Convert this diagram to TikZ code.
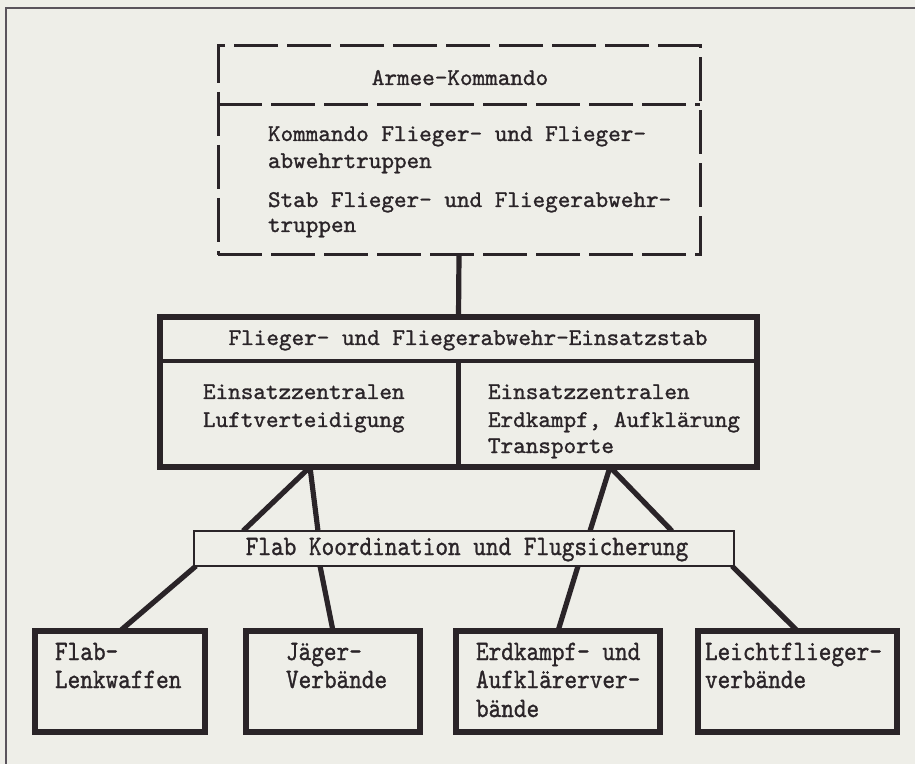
\documentclass[tikz,border=0pt]{standalone}
\usepackage{fontspec}
\usepackage{graphicx}
\usetikzlibrary{calc}
\newfontfamily\twfont[FakeBold=1.2]{lmmono10-regular.otf}
\definecolor{paper}{RGB}{238,238,232}
\definecolor{ink}{RGB}{42,36,40}
\definecolor{framegray}{RGB}{90,84,92}
\pgfdeclarelayer{bg}
\pgfdeclarelayer{lines}
\pgfsetlayers{bg,lines,main}
\newcommand{\cnd}[1]{\scalebox{0.86}[1]{#1}}
\begin{document}
\begin{tikzpicture}[x=0.5pt,y=-0.5pt,
  every node/.style={inner sep=0pt, outer sep=0pt},
  dashbox/.style={draw=ink, line width=1.5pt, dash pattern=on 22pt off 4.5pt, fill=paper},
  dashline/.style={draw=ink, line width=1.5pt, dash pattern=on 22pt off 4.5pt},
  thickbox/.style={draw=ink, line width=3.2pt, fill=paper},
  thinbox/.style={draw=ink, line width=1pt, fill=paper},
  conn/.style={draw=ink, line width=2.6pt},
  divider/.style={draw=ink, line width=2.4pt},
  tw/.style={font=\fontsize{12}{14}\selectfont\twfont, text=ink},
  twc/.style={font=\fontsize{14}{16}\selectfont\twfont, text=ink},
  lt/.style={tw, anchor=base west},
  ltc/.style={twc, anchor=base west}]
\useasboundingbox (0,0) rectangle (915,764);
\begin{pgfonlayer}{bg}
  \fill[paper] (0,0) rectangle (915,764);
  \draw[framegray, line width=0.8pt] (6,764) -- (6,8) -- (915,8);
\end{pgfonlayer}

% boxes
\node[dashbox, minimum width=241pt, minimum height=104.5pt] (armee) at (459,150.5) {};
\draw[dashline] ($(armee.north west)+(0,59)$) -- ($(armee.north east)+(0,59)$);

\node[thickbox, minimum width=298.5pt, minimum height=75pt] (stab) at (458.5,392) {};
\draw[divider] ($(stab.north west)+(0,44)$) -- ($(stab.north east)+(0,44)$);
\draw[divider] ($(stab.north)+(0,44)$) -- (stab.south);

\node[thinbox, minimum width=270pt, minimum height=17.5pt] (koord) at (464,548.5) {};

\node[thickbox, minimum width=85pt, minimum height=50.5pt] (b1) at (120,681.5) {};
\node[thickbox, minimum width=87pt, minimum height=50.5pt] (b2) at (333,681.5) {};
\node[thickbox, minimum width=102pt, minimum height=50.5pt] (b3) at (558,681.5) {};
\node[thickbox, minimum width=99.5pt, minimum height=50.5pt] (b4) at (797.5,681.5) {};

% connectors
\begin{pgfonlayer}{lines}
  \draw[conn] (armee.south) -- (stab.north);
  \coordinate (jl) at ($(stab.south west)+(150,0)$);
  \coordinate (jr) at ($(stab.south west)+(450,0)$);
  \draw[conn] (jl) -- ($(koord.north west)+(49,0)$);
  \draw[conn] (jl) -- ($(koord.north west)+(124,0)$);
  \draw[conn] (jr) -- ($(koord.north west)+(396,0)$);
  \draw[conn] (jr) -- ($(koord.north west)+(478,0)$);
  \draw[conn] ($(koord.south west)+(2,0)$) -- (b1.north);
  \draw[conn] ($(koord.south west)+(126,0)$) -- (b2.north);
  \draw[conn] ($(koord.south west)+(384,0)$) -- (b3.north);
  \draw[conn] ($(koord.south east)+(-2,0)$) -- (b4.north);
\end{pgfonlayer}

% texts
\node[tw, anchor=base] (tarmee) at (460,85) {Armee-Kommando};
\node[lt] (tk1) at (268,141) {Kommando Flieger- und Flieger-};
\node[lt] (tk2) at (268,168) {abwehrtruppen};
\node[lt] (tk3) at (268,207) {Stab Flieger- und Fliegerabwehr-};
\node[lt] (tk4) at (268,232) {truppen};

\node[tw, anchor=base] (tstab) at (468,345) {Flieger- und Fliegerabwehr-Einsatzstab};
\node[lt] (tl1) at (203,399) {Einsatzzentralen};
\node[lt] (tl2) at (203,427) {Luftverteidigung};
\node[lt] (tr1) at (488,399) {Einsatzzentralen};
\node[lt] (tr2) at (488,427) {Erdkampf, Aufklärung};
\node[lt] (tr3) at (488,453) {Transporte};

\node[twc, anchor=base] (tkoord) at (467,555) {\cnd{Flab Koordination und Flugsicherung}};

\node[ltc] (tb11) at (55,660) {\cnd{Flab-}};
\node[ltc] (tb12) at (55,688) {\cnd{Lenkwaffen}};
\node[ltc] (tb21) at (286,660) {\cnd{Jäger-}};
\node[ltc] (tb22) at (286,688) {\cnd{Verbände}};
\node[ltc] (tb31) at (476,660) {\cnd{Erdkampf- und}};
\node[ltc] (tb32) at (476,688) {\cnd{Aufklärerver-}};
\node[ltc] (tb33) at (476,717) {\cnd{bände}};
\node[ltc] (tb41) at (705,660) {\cnd{Leichtflieger-}};
\node[ltc] (tb42) at (705,688) {\cnd{verbände}};
\end{tikzpicture}
\end{document}
